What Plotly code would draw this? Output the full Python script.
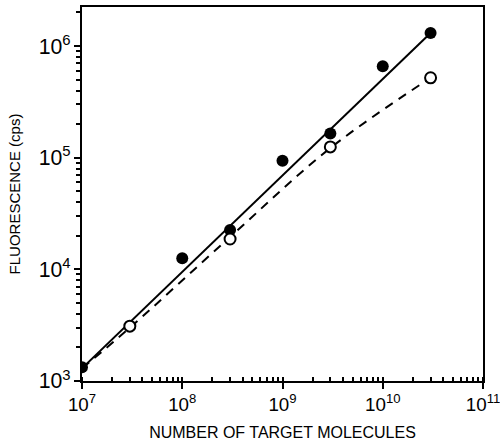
import plotly.graph_objects as go

# Data
filled_x = [1e7, 1e8, 3e8, 1e9, 3e9, 1e10, 3e10]
filled_y = [1.33e3, 1.26e4, 2.25e4, 9.4e4, 1.65e5, 6.6e5, 1.31e6]
open_x = [3e7, 3e8, 3e9, 3e10]
open_y = [3.1e3, 1.87e4, 1.25e5, 5.2e5]
solid_fit_x = [1e7, 3e10]
solid_fit_y = [1.3e3, 1.31e6]
dashed_fit_x = [1e7, 3e7, 3e8, 3e9, 3e10]
dashed_fit_y = [1.3e3, 3.0e3, 1.95e4, 1.22e5, 5.2e5]

fig = go.Figure()
fig.add_trace(go.Scatter(x=solid_fit_x, y=solid_fit_y, mode="lines",
                         line=dict(color="black", width=2), showlegend=False))
fig.add_trace(go.Scatter(x=dashed_fit_x, y=dashed_fit_y, mode="lines",
                         line=dict(color="black", width=2, dash="9px,7px", shape="spline"),
                         showlegend=False))
fig.add_trace(go.Scatter(x=filled_x, y=filled_y, mode="markers",
                         marker=dict(color="black", size=12), showlegend=False))
fig.add_trace(go.Scatter(x=open_x, y=open_y, mode="markers",
                         marker=dict(color="white", size=11, line=dict(color="black", width=2)),
                         showlegend=False))

font = "Liberation Sans, Arial, sans-serif"
fig.update_layout(
    width=500, height=442,
    margin=dict(l=82, r=17, t=7, b=61),
    plot_bgcolor="white", paper_bgcolor="white",
    font=dict(family=font, color="black", size=14),
    xaxis=dict(type="log", range=[7, 11], dtick=1, exponentformat="power",
               automargin=False, ticklabeloverflow="allow",
               showline=True, linecolor="black", linewidth=2, mirror=True,
               ticks="outside", ticklen=6, tickwidth=1.5, tickcolor="black",
               showgrid=False, zeroline=False,
               tickfont=dict(size=15),
               minor=dict(ticks="inside", ticklen=4, tickcolor="black", showgrid=False),
               title=dict(text="NUMBER OF TARGET MOLECULES", font=dict(size=16), standoff=13)),
    yaxis=dict(type="log", range=[3, 6.35], dtick=1, exponentformat="power",
               automargin=False, ticklabeloverflow="allow",
               showline=True, linecolor="black", linewidth=2, mirror=True,
               ticks="outside", ticklen=6, tickwidth=1.5, tickcolor="black",
               showgrid=False, zeroline=False,
               tickfont=dict(size=17),
               minor=dict(ticks="outside", ticklen=4, tickcolor="black", showgrid=False),
               title=dict(text="FLUORESCENCE (cps)", font=dict(size=15), standoff=14)),
)
fig.write_html("out.html", config={"displayModeBar": False},
               post_script="document.body.style.margin='0';document.body.style.padding='0';")
